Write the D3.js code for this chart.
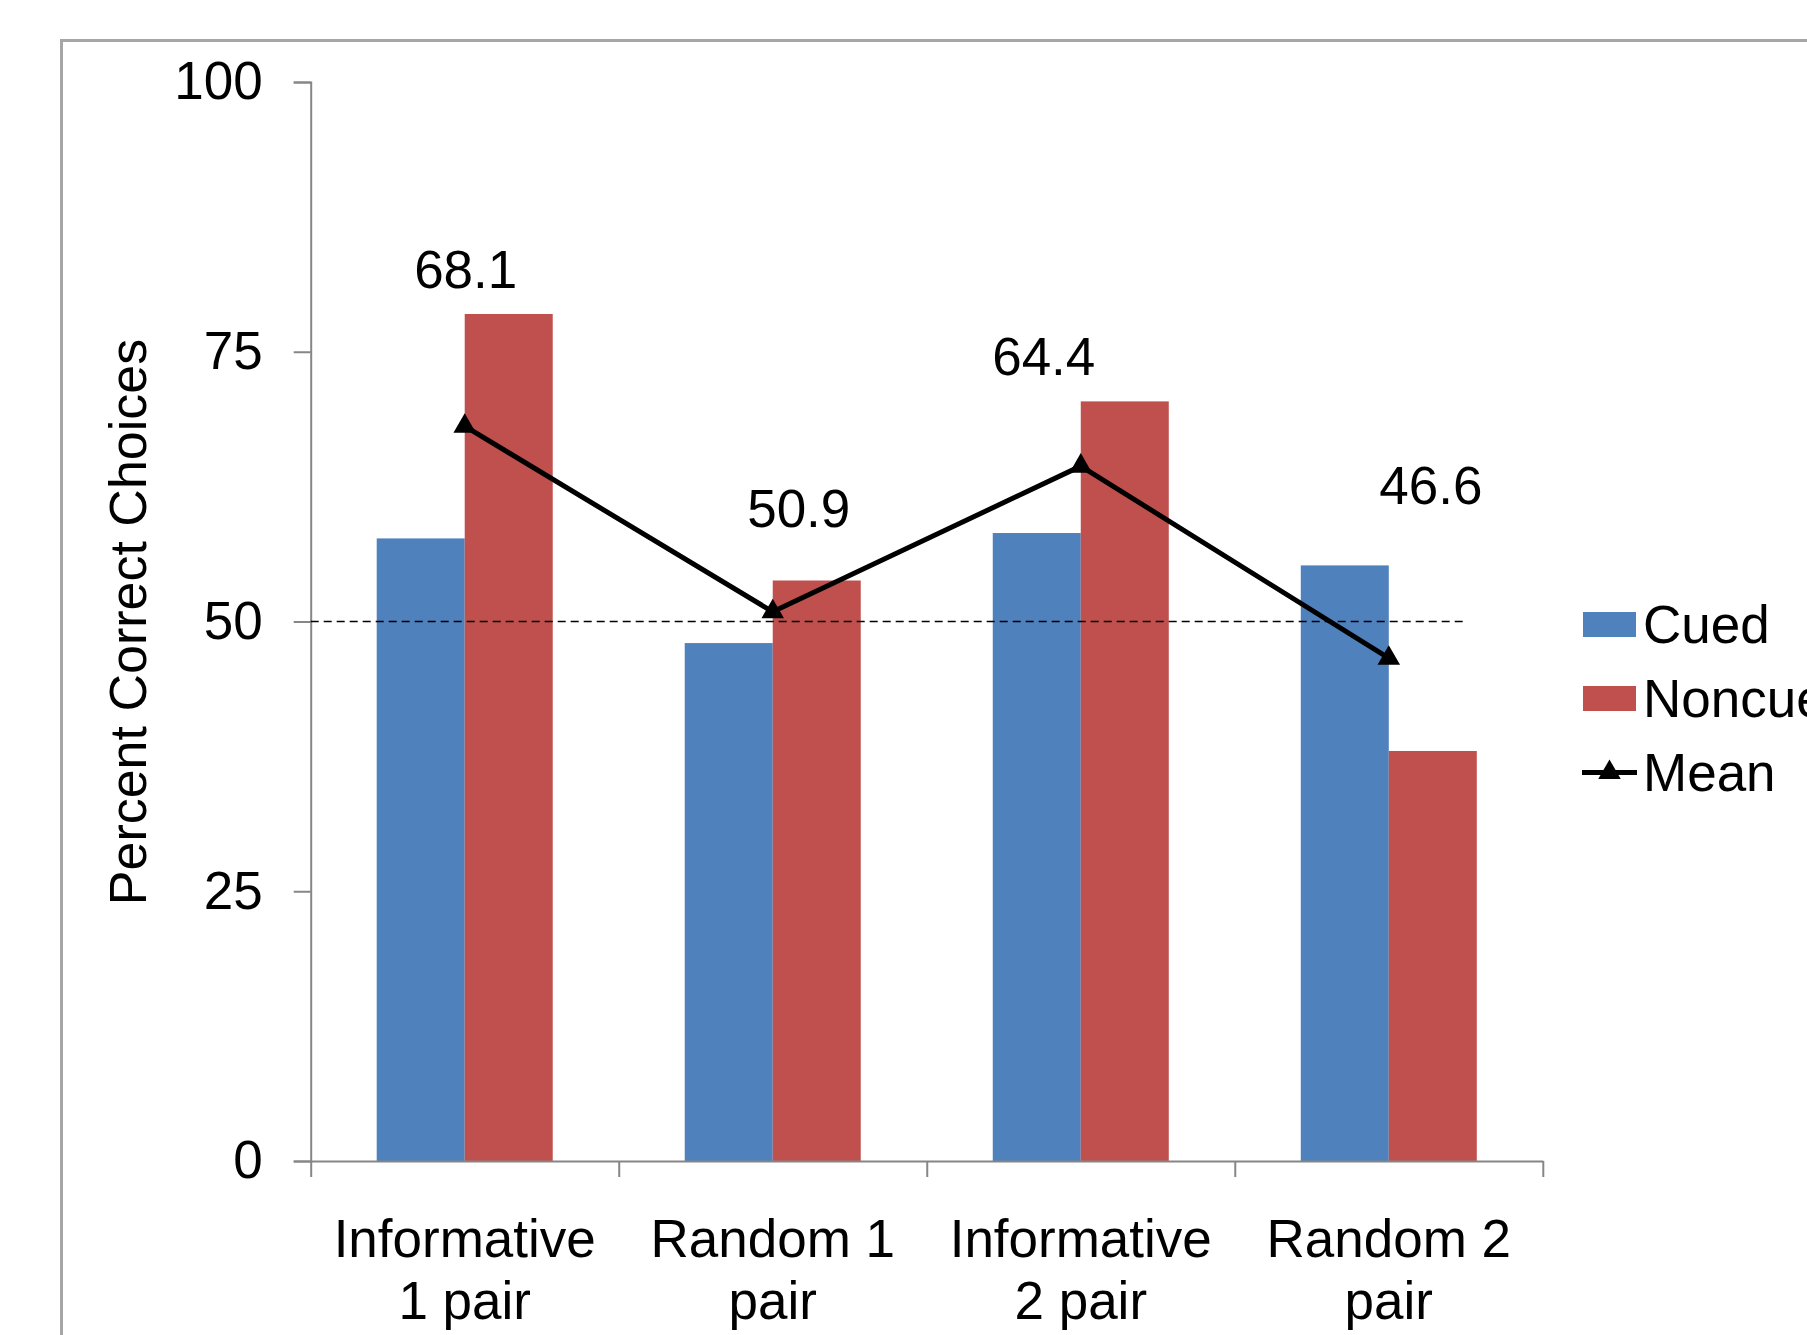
<!DOCTYPE html>
<html>
<head>
<meta charset="utf-8">
<script src="https://cdn.jsdelivr.net/npm/d3@7"></script>
<style>
  html, body { margin: 0; padding: 0; background: #fff; overflow: hidden; }
  svg { display: block; font-family: "Liberation Sans", Arial, sans-serif; }
</style>
</head>
<body>
<svg id="chart" width="1807" height="1335"></svg>
<script>
// Conditions, one group of bars each
const categories = [["Informative", "1 pair"], ["Random 1", "pair"], ["Informative", "2 pair"], ["Random 2", "pair"]];
const seriesNames = ["Cued", "Noncued"];
const cued = [57.7, 48.0, 58.2, 55.2];
const noncued = [78.5, 53.8, 70.4, 38.0];
const meanValues = [68.1, 50.9, 64.4, 46.6];
const yTicks = [0, 25, 50, 75, 100];
const chanceLevel = 50;

// Hand-placed mean labels: pixel nudges from each point
const labelNudge = [[1, -138], [26, -85], [-37, -91], [42, -154]];

const colors = { Cued: "#4F81BD", Noncued: "#C0504D" };
const axisGray = "#868686";
const fontSize = 53;

const svg = d3.select("#chart");

// Outer chart-area frame (runs off the right and bottom edges)
svg.append("rect")
  .attr("x", 61.5).attr("y", 40.5)
  .attr("width", 1900).attr("height", 1400)
  .attr("fill", "none").attr("stroke", "#a6a6a6").attr("stroke-width", 3);

const plot = { left: 310.7, right: 1542.8, top: 82, bottom: 1161 };

const x = d3.scaleBand()
  .domain(d3.range(categories.length))
  .range([plot.left, plot.right])
  .padding(0);

const xSub = d3.scaleBand()
  .domain(seriesNames)
  .range([0, x.bandwidth()])
  .paddingInner(0)
  .paddingOuter(0.75);

const y = d3.scaleLinear().domain([0, 100]).range([plot.bottom, plot.top]);

// Bars
const seriesValues = { Cued: cued, Noncued: noncued };
const barRows = [];
categories.forEach((c, i) => seriesNames.forEach(s => barRows.push({ i, s, v: seriesValues[s][i] })));

svg.append("g").selectAll("rect")
  .data(barRows)
  .join("rect")
  .attr("x", d => x(d.i) + xSub(d.s))
  .attr("y", d => y(d.v))
  .attr("width", xSub.bandwidth())
  .attr("height", d => y(0) - y(d.v))
  .attr("fill", d => colors[d.s]);

// Y axis
const yAxis = svg.append("g")
  .attr("transform", `translate(${plot.left},0)`)
  .call(d3.axisLeft(y).tickValues(yTicks).tickSize(17).tickPadding(31).tickFormat(d3.format("d")));
yAxis.selectAll("path, line").attr("stroke", axisGray).attr("stroke-width", 2);
yAxis.selectAll("text").attr("font-size", fontSize).attr("fill", "#000")
  .attr("font-family", "Liberation Sans, Arial, sans-serif");

// X axis: ticks on the group boundaries
const xEdges = d3.scaleLinear().domain([0, categories.length]).range([plot.left, plot.right]);
const xAxis = svg.append("g")
  .attr("transform", `translate(0,${plot.bottom})`)
  .call(d3.axisBottom(xEdges).tickValues(d3.range(categories.length + 1)).tickSize(16).tickSizeOuter(0).tickFormat(""));
xAxis.selectAll("path, line").attr("stroke", axisGray).attr("stroke-width", 2);

// Category labels (two lines each)
const catText = svg.append("g").selectAll("text")
  .data(categories)
  .join("text")
  .attr("text-anchor", "middle")
  .attr("font-size", fontSize)
  .attr("fill", "#000");
catText.each(function (lines, i) {
  const t = d3.select(this);
  lines.forEach((ln, k) => {
    t.append("tspan")
      .attr("x", x(i) + x.bandwidth() / 2)
      .attr("y", 1257 + k * 61.5)
      .text(ln);
  });
});

// Y axis title
svg.append("text")
  .attr("transform", `translate(146,622) rotate(-90)`)
  .attr("text-anchor", "middle")
  .attr("font-size", 52)
  .attr("fill", "#000")
  .text("Percent Correct Choices");

// Chance level reference line
svg.append("line")
  .attr("x1", plot.left).attr("x2", x(categories.length - 1) + x.bandwidth() * 0.74)
  .attr("y1", y(chanceLevel)).attr("y2", y(chanceLevel))
  .attr("stroke", "#000").attr("stroke-width", 1.6)
  .attr("stroke-dasharray", "8,5");

// Mean line with triangle markers
const cx = i => x(i) + x.bandwidth() / 2;
svg.append("path")
  .datum(meanValues)
  .attr("fill", "none")
  .attr("stroke", "#000")
  .attr("stroke-width", 5)
  .attr("stroke-linejoin", "round")
  .attr("d", d3.line().x((d, i) => cx(i)).y(d => y(d)));

const tri = d3.symbol().type(d3.symbolTriangle).size(220);
svg.append("g").selectAll("path")
  .data(meanValues)
  .join("path")
  .attr("transform", (d, i) => `translate(${cx(i)},${y(d)})`)
  .attr("d", tri)
  .attr("fill", "#000");

// Mean value labels
svg.append("g").selectAll("text")
  .data(meanValues)
  .join("text")
  .attr("x", (d, i) => cx(i) + labelNudge[i][0])
  .attr("y", (d, i) => y(d) + labelNudge[i][1])
  .attr("text-anchor", "middle")
  .attr("font-size", fontSize)
  .attr("fill", "#000")
  .text(d => d3.format(".1f")(d));

// Legend
const legendRows = [
  { name: "Cued", kind: "bar" },
  { name: "Noncued", kind: "bar" },
  { name: "Mean", kind: "line" }
];
const legend = svg.append("g").attr("transform", "translate(1583,612)");
legendRows.forEach((r, k) => {
  const g = legend.append("g").attr("transform", `translate(0,${k * 74})`);
  if (r.kind === "bar") {
    g.append("rect").attr("x", 0).attr("y", 0).attr("width", 53).attr("height", 25)
      .attr("fill", colors[r.name]);
  } else {
    g.append("line").attr("x1", -1).attr("x2", 54).attr("y1", 12.5).attr("y2", 12.5)
      .attr("stroke", "#000").attr("stroke-width", 5);
    g.append("path").attr("transform", "translate(26.5,12.5)").attr("d", tri).attr("fill", "#000");
  }
  g.append("text")
    .attr("x", 60).attr("y", 31)
    .attr("font-size", fontSize)
    .attr("fill", "#000")
    .text(r.name);
});
</script>
</body>
</html>
